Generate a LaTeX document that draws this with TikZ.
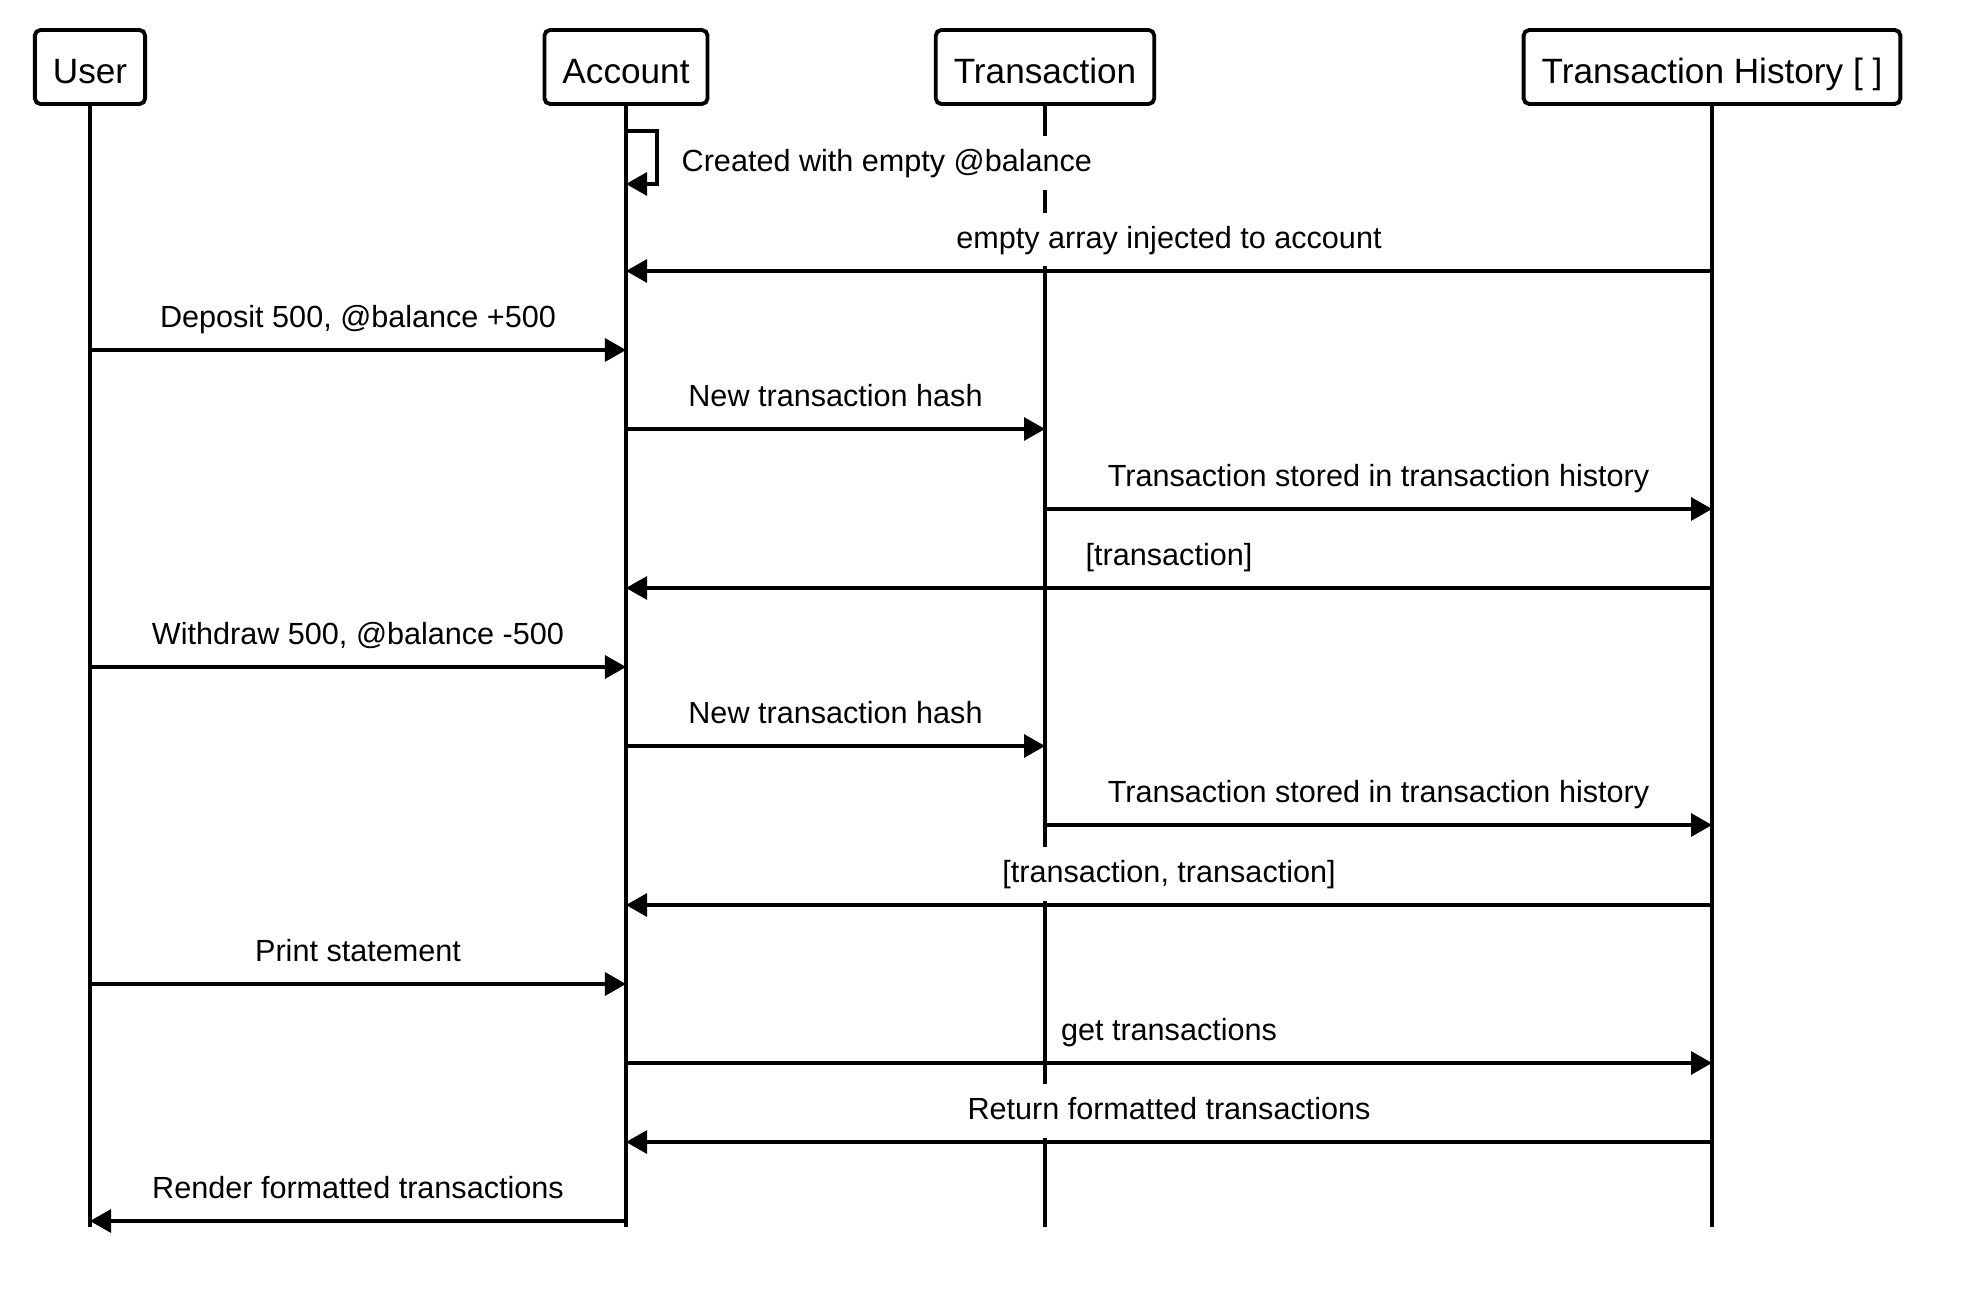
\documentclass[tikz,border=0pt]{standalone}
\usepackage{fontspec}
\setmainfont{Liberation Sans}
\usetikzlibrary{arrows.meta}

\begin{document}
\begin{tikzpicture}[x=0.01cm, y=-0.01cm,
    actor/.style={rectangle, rounded corners=1.6pt, draw=black, line width=1.1pt, fill=white,
        minimum height=0.74cm, inner xsep=0.18cm, text height=0.36cm, text depth=0.04cm,
        font=\fontsize{10}{12}\selectfont},
    life/.style={line width=1.1pt},
    msg/.style={-{Triangle[length=0.21cm, width=0.23cm]}, line width=0.9pt},
    lbl/.style={fill=white, inner xsep=0.05cm, inner ysep=0.105cm, text height=0.25cm,
        text depth=0.07cm, font=\fontsize{8.7}{10}\selectfont},
]
\useasboundingbox (0,0) rectangle (1988,1316);

\node[actor] (user) at (90,67) {User};
\node[actor] (account) at (626,67) {Account};
\node[actor] (trans) at (1045,67) {Transaction};
\node[actor] (history) at (1712,67) {Transaction History [ ]};

% lifelines
\coordinate (bottom) at (0,1227);
\foreach \n in {user,account,trans,history}
    \draw[life] (\n.south) -- (\n |- bottom);

% message rows
\coordinate (selfa) at (0,131);
\coordinate (selfb) at (0,184);
\foreach \i/\y in {1/271,2/350,3/429,4/509,5/588,6/667,7/746,8/825,9/905,10/984,11/1063,12/1142,13/1221}
    \coordinate (r\i) at (0,\y);

% self call
\draw[msg] (account |- selfa) -- ++(31,0) |- (account |- selfb);
\node[lbl, anchor=west] (created) at (676,163) {Created with empty @balance};

\draw[msg] (history |- r1) -- node[lbl, yshift=0.31cm] {empty array injected to account} (account |- r1);
\draw[msg] (user |- r2) -- node[lbl, yshift=0.31cm] {Deposit 500, @balance +500} (account |- r2);
\draw[msg] (account |- r3) -- node[lbl, yshift=0.31cm] {New transaction hash} (trans |- r3);
\draw[msg] (trans |- r4) -- node[lbl, yshift=0.31cm] {Transaction stored in transaction history} (history |- r4);
\draw[msg] (history |- r5) -- node[lbl, yshift=0.31cm] {[transaction]} (account |- r5);
\draw[msg] (user |- r6) -- node[lbl, yshift=0.31cm] {Withdraw 500, @balance -500} (account |- r6);
\draw[msg] (account |- r7) -- node[lbl, yshift=0.31cm] {New transaction hash} (trans |- r7);
\draw[msg] (trans |- r8) -- node[lbl, yshift=0.31cm] {Transaction stored in transaction history} (history |- r8);
\draw[msg] (history |- r9) -- node[lbl, yshift=0.31cm] {[transaction, transaction]} (account |- r9);
\draw[msg] (user |- r10) -- node[lbl, yshift=0.31cm] {Print statement} (account |- r10);
\draw[msg] (account |- r11) -- node[lbl, yshift=0.31cm] {get transactions} (history |- r11);
\draw[msg] (history |- r12) -- node[lbl, yshift=0.31cm] {Return formatted transactions} (account |- r12);
\draw[msg] (account |- r13) -- node[lbl, yshift=0.31cm] {Render formatted transactions} (user |- r13);
\end{tikzpicture}
\end{document}
